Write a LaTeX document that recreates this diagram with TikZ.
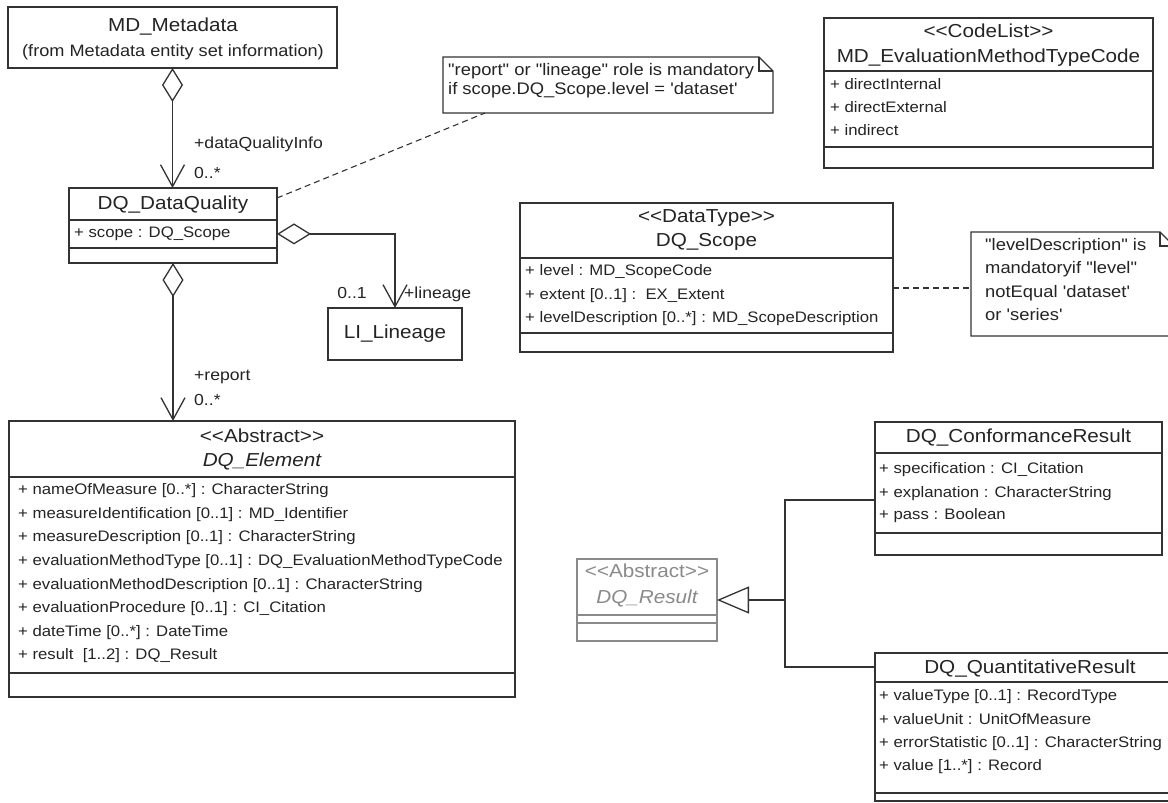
\documentclass[tikz,border=0pt]{standalone}
\usepackage{fontspec}
\setmainfont[FakeStretch=1.1,Ligatures=TeXOff]{Liberation Sans}
\usetikzlibrary{arrows.meta,calc}
\definecolor{ln}{HTML}{333333}
\definecolor{tx}{HTML}{242424}
\definecolor{lg}{HTML}{8A8A8A}
\begin{document}
\begin{tikzpicture}[x=1pt,y=-1pt,
  box/.style={draw=ln, line width=1.3pt, rectangle, inner sep=0pt, outer sep=0pt, anchor=north west},
  notebox/.style={rectangle, inner sep=0pt, outer sep=0pt, anchor=north west},
  sepl/.style={draw=ln, line width=1.3pt},
  ttl/.style={font=\fontsize{18.8}{22}\selectfont, text=tx, anchor=mid, inner sep=0pt, yshift=-1.5pt},
  sub/.style={font=\fontsize{16.5}{20}\selectfont, text=tx, anchor=mid, inner sep=0pt, yshift=-1pt},
  attr/.style={font=\fontsize{15.2}{19}\selectfont, text=tx, anchor=mid west, inner sep=0pt},
  role/.style={font=\fontsize{16}{19}\selectfont, text=tx, anchor=mid west, inner sep=0pt},
  nt/.style={font=\fontsize{16.7}{20}\selectfont, text=tx, anchor=mid west, inner sep=0pt},
  agg/.style={draw=ln, line width=1.3pt, {Diamond[open, length=34pt, width=21pt]}-{Straight Barb[length=22pt, width=24pt]}},
  gen/.style={draw=ln, line width=1.3pt, -{Triangle[open, length=32pt, width=27pt]}},
  dsh/.style={draw=ln, line width=1.1pt, dash pattern=on 6pt off 4pt},
  notel/.style={draw=ln, line width=1.3pt}]
\useasboundingbox (0,0) rectangle (1168,803);
\fill[white] (0,0) rectangle (1168,803);
\clip (0,0) rectangle (1168,803);

% MD_Metadata
\node[box, minimum width=329, minimum height=61] (md) at (8,7) {};
\node[ttl] (mdT) at (173,27) {MD\_Metadata};
\node[sub] (mdS) at (173,53) {(from Metadata entity set information)};

% DQ_DataQuality
\node[box, minimum width=208, minimum height=75] (dq) at (69,188) {};
\draw[sepl] (69,220) -- (277,220);
\draw[sepl] (69,248) -- (277,248);
\node[ttl] (dqT) at (173,205) {DQ\_DataQuality};
\node[attr] (dqA) at (74,235) {+ scope : DQ\_Scope};

% DQ_Element
\node[box, minimum width=506, minimum height=276] (el) at (9,421) {};
\draw[sepl] (9,477) -- (515,477);
\draw[sepl] (9,673) -- (515,673);
\node[ttl] (elS) at (262,438) {<<Abstract>>};
\node[ttl] (elT) at (262,462) {\itshape DQ\_Element};
\node[attr] (ea1) at (18,492) {+ nameOfMeasure [0..*] : CharacterString};
\node[attr] (ea2) at (18,515.6) {+ measureIdentification [0..1] : MD\_Identifier};
\node[attr] (ea3) at (18,539.2) {+ measureDescription [0..1] : CharacterString};
\node[attr] (ea4) at (18,562.8) {+ evaluationMethodType [0..1] : DQ\_EvaluationMethodTypeCode};
\node[attr] (ea5) at (18,586.4) {+ evaluationMethodDescription [0..1] : CharacterString};
\node[attr] (ea6) at (18,610) {+ evaluationProcedure [0..1] : CI\_Citation};
\node[attr] (ea7) at (18,633.6) {+ dateTime [0..*] : DateTime};
\node[attr] (ea8) at (18,657.2) {+ result\ \ [1..2] : DQ\_Result};

% aggregations
\draw[agg] (md.south) -- (md.south |- dq.north);
\node[role] (r1) at (194,146) {+dataQualityInfo};
\node[role] (r1m) at (194,176) {0..*};
\draw[agg] (dq.south) -- (dq.south |- el.north);
\node[role] (r2) at (194,378) {+report};
\node[role] (r2m) at (194,403) {0..*};

% LI_Lineage
\node[box, minimum width=134, minimum height=52] (li) at (328,308) {};
\node[ttl] (liT) at (395,334) {LI\_Lineage};
\draw[agg] (dq.east |- dqA) -| (li.north);
\node[role, anchor=mid] (r3m) at (352,296) {0..1};
\node[role] (r3) at (404,296) {+lineage};

% note 1
\node[notebox, minimum width=330, minimum height=56] (n1) at (443,57) {};
\draw[notel] (n1.north west) -- ($(n1.north east)+(-14,0)$) -- ($(n1.north east)+(0,14)$) -- (n1.south east) -- (n1.south west) -- cycle;
\draw[notel] ($(n1.north east)+(-14,0)$) |- ($(n1.north east)+(0,14)$);
\node[nt] (n1a) at (448,73) {"report" or "lineage" role is mandatory};
\node[nt] (n1b) at (448,92) {if scope.DQ\_Scope.level = 'dataset'};
\draw[dsh] ($(dq.north east)+(0,10)$) -- ($(n1.south west)+(42,0)$);

% CodeList
\node[box, minimum width=329, minimum height=150] (cl) at (824,18) {};
\draw[sepl] (824,71) -- (1153,71);
\draw[sepl] (824,147) -- (1153,147);
\node[ttl] (clS) at (988.5,33) {<<CodeList>>};
\node[ttl] (clT) at (988.5,58) {MD\_EvaluationMethodTypeCode};
\node[attr] (ca1) at (830,87) {+ directInternal};
\node[attr] (ca2) at (830,110) {+ directExternal};
\node[attr] (ca3) at (830,133) {+ indirect};

% DQ_Scope
\node[box, minimum width=373, minimum height=149] (sc) at (520,203) {};
\draw[sepl] (520,258) -- (893,258);
\draw[sepl] (520,333) -- (893,333);
\node[ttl] (scS) at (706.5,218) {<<DataType>>};
\node[ttl] (scT) at (706.5,242) {DQ\_Scope};
\node[attr] (sa1) at (525,273) {+ level : MD\_ScopeCode};
\node[attr] (sa2) at (525,297) {+ extent [0..1] :\ \ EX\_Extent};
\node[attr] (sa3) at (525,320) {+ levelDescription [0..*] : MD\_ScopeDescription};

% note 2
\node[notebox, minimum width=203, minimum height=104] (n2) at (971,232) {};
\draw[notel] (n2.north west) -- ($(n2.north east)+(-14,0)$) -- ($(n2.north east)+(0,14)$) -- (n2.south east) -- (n2.south west) -- cycle;
\draw[notel] ($(n2.north east)+(-14,0)$) |- ($(n2.north east)+(0,14)$);
\node[nt] (n2a) at (985,248) {"levelDescription" is};
\node[nt] (n2b) at (985,271) {mandatoryif "level"};
\node[nt] (n2c) at (985,295) {notEqual 'dataset'};
\node[nt] (n2d) at (985,318) {or 'series'};
\draw[dsh] ($(sc.east)+(0,10.5)$) -- ($(n2.west)+(0,4)$);

% DQ_Result
\node[box, draw=lg, minimum width=140, minimum height=82] (dr) at (577,559) {};
\draw[sepl, draw=lg] (577,615) -- (717,615);
\draw[sepl, draw=lg] (577,623) -- (717,623);
\node[ttl, text=lg] (drS) at (647,573) {<<Abstract>>};
\node[ttl, text=lg] (drT) at (647,599) {\itshape DQ\_Result};

% DQ_ConformanceResult
\node[box, minimum width=287, minimum height=133] (cr) at (875,422) {};
\draw[sepl] (875,453) -- (1162,453);
\draw[sepl] (875,533) -- (1162,533);
\node[ttl] (crT) at (1018.5,438) {DQ\_ConformanceResult};
\node[attr] (cra1) at (879,471) {+ specification : CI\_Citation};
\node[attr] (cra2) at (879,495) {+ explanation : CharacterString};
\node[attr] (cra3) at (879,517) {+ pass : Boolean};

% DQ_QuantitativeResult
\node[box, minimum width=310, minimum height=148] (qr) at (875,653) {};
\draw[sepl] (875,682) -- (1185,682);
\draw[sepl] (875,793) -- (1185,793);
\node[ttl] (qrT) at (1030,669) {DQ\_QuantitativeResult};
\node[attr] (qra1) at (879,698) {+ valueType [0..1] : RecordType};
\node[attr] (qra2) at (879,722) {+ valueUnit : UnitOfMeasure};
\node[attr] (qra3) at (879,745) {+ errorStatistic [0..1] : CharacterString};
\node[attr] (qra4) at (879,768) {+ value [1..*] : Record};

% generalization
\coordinate (j) at (785,600);
\draw[gen] (j) -- (dr.east);
\draw[sepl] ($(cr.west)+(0,11.5)$) -| (j) |- ($(qr.west)+(0,-60)$);
\end{tikzpicture}
\end{document}
